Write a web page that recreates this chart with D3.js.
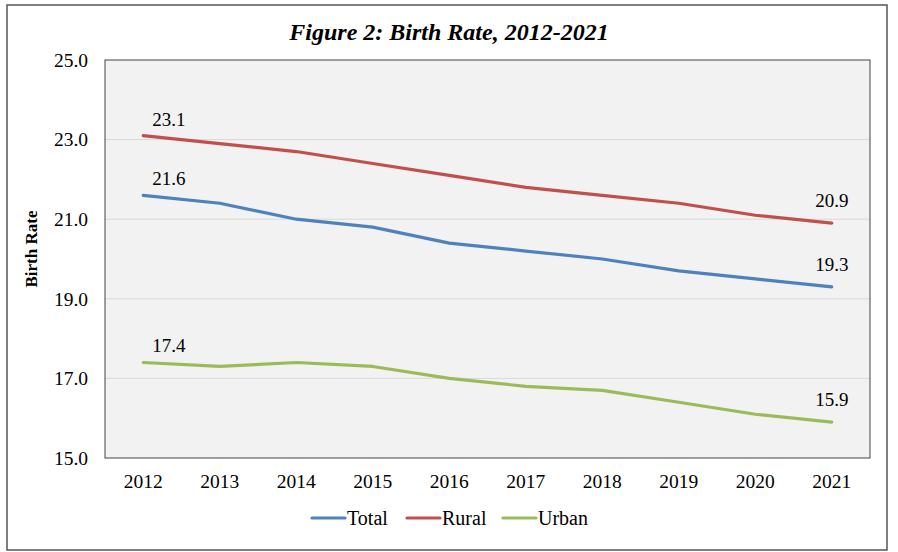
<!DOCTYPE html>
<html><head><meta charset="utf-8">
<script src="https://cdn.jsdelivr.net/npm/d3@7"></script>
<style>body{margin:0;background:#fff}svg{display:block}</style>
</head><body><svg id="c" width="898" height="552"></svg>
<script>
const years = ["2012","2013","2014","2015","2016","2017","2018","2019","2020","2021"];
const total = [21.6,21.4,21.0,20.8,20.4,20.2,20.0,19.7,19.5,19.3];
const rural = [23.1,22.9,22.7,22.4,22.1,21.8,21.6,21.4,21.1,20.9];
const urban = [17.4,17.3,17.4,17.3,17.0,16.8,16.7,16.4,16.1,15.9];
const yTicks = [15,17,19,21,23,25];
const seriesNames = ["Total","Rural","Urban"];
const seriesColors = ["#4f81bd","#c0504d","#9bbb59"];
const seriesData = [total, rural, urban];

const svg = d3.select("#c");
const font = "'Liberation Serif','Times New Roman',serif";
const L=105,T=60,R=870,B=458;

svg.append("rect").attr("x",7).attr("y",5).attr("width",880).attr("height",545)
  .attr("fill","#fff").attr("stroke","#555").attr("stroke-width",1.5);

svg.append("text").attr("x",449).attr("y",40).attr("text-anchor","middle")
  .attr("font-family",font).attr("font-size",24).attr("font-weight","bold").attr("font-style","italic")
  .text("Figure 2: Birth Rate, 2012-2021");

const x = d3.scaleBand().domain(years).range([L,R]);
const y = d3.scaleLinear().domain([15,25]).range([B,T]);

svg.append("rect").attr("x",L).attr("y",T).attr("width",R-L).attr("height",B-T).attr("fill","#f2f2f2");

svg.append("g").selectAll("line").data(yTicks.filter(d=>d>15&&d<25)).join("line")
  .attr("x1",L).attr("x2",R).attr("y1",d=>y(d)).attr("y2",d=>y(d))
  .attr("stroke","#d9d9d9").attr("stroke-width",1);

svg.append("rect").attr("x",L).attr("y",T).attr("width",R-L).attr("height",B-T)
  .attr("fill","none").attr("stroke","#444").attr("stroke-width",1);

const yAxis = svg.append("g").attr("transform",`translate(${L},0)`)
  .call(d3.axisLeft(y).tickValues(yTicks).tickFormat(d3.format(".1f")).tickSize(0).tickPadding(17));
yAxis.select(".domain").remove();
yAxis.selectAll("text").attr("font-family",font).attr("font-size",19.5).attr("fill","#000");

const xAxis = svg.append("g").attr("transform",`translate(0,${B})`)
  .call(d3.axisBottom(x).tickSize(0).tickPadding(16));
xAxis.select(".domain").remove();
xAxis.selectAll("text").attr("font-family",font).attr("font-size",19.5).attr("fill","#000");

svg.append("text").attr("transform","translate(37,249) rotate(-90)").attr("text-anchor","middle")
  .attr("font-family",font).attr("font-size",17).attr("font-weight","bold").text("Birth Rate");

const line = d3.line().x((d,i)=>x(years[i])+x.bandwidth()/2).y(d=>y(d));
seriesData.forEach((s,k)=>{
  svg.append("path").datum(s).attr("d",line).attr("fill","none")
    .attr("stroke",seriesColors[k]).attr("stroke-width",3.2).attr("stroke-linecap","round").attr("stroke-linejoin","round");
  const n=s.length-1;
  svg.append("text").attr("x",x(years[0])+x.bandwidth()/2+9).attr("y",y(s[0])-10)
    .attr("font-family",font).attr("font-size",19).text(d3.format(".1f")(s[0]));
  svg.append("text").attr("x",x(years[n])+x.bandwidth()/2).attr("y",y(s[n])-16).attr("text-anchor","middle")
    .attr("font-family",font).attr("font-size",19).text(d3.format(".1f")(s[n]));
});

const legX=[312,407,503];
seriesNames.forEach((nm,k)=>{
  svg.append("line").attr("x1",legX[k]).attr("x2",legX[k]+33).attr("y1",518).attr("y2",518)
    .attr("stroke",seriesColors[k]).attr("stroke-width",3.2).attr("stroke-linecap","round");
  svg.append("text").attr("x",legX[k]+35).attr("y",525).attr("font-family",font).attr("font-size",20).text(nm);
});
</script></body></html>
